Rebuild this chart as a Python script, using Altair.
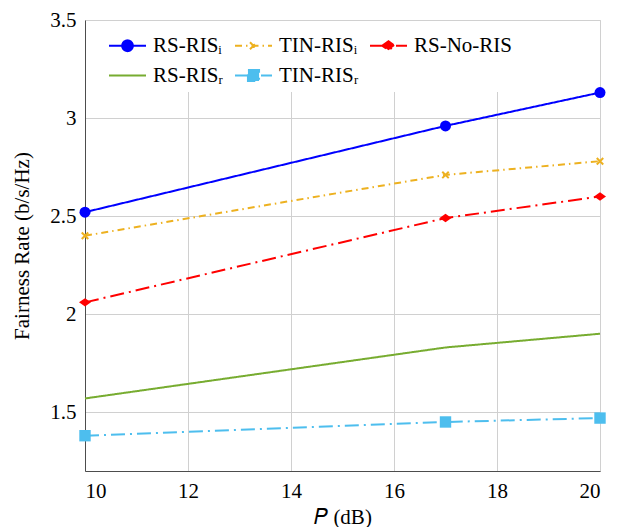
import math

import altair as alt
import pandas as pd

# Transmit power (dB) at which each scheme was evaluated
power_db = [10, 17, 20]

# Series labels, in legend order
series_names = ["RS-RISᵢ", "TIN-RISᵢ", "RS-No-RIS", "RS-RISᵣ", "TIN-RISᵣ"]

# Fairness rate (b/s/Hz) per scheme
rs_ris_i = [2.52, 2.96, 3.13]
tin_ris_i = [2.40, 2.71, 2.78]
rs_no_ris = [2.06, 2.49, 2.60]
rs_ris_r = [1.57, 1.83, 1.90]
tin_ris_r = [1.38, 1.45, 1.47]

x_ticks = [10, 12, 14, 16, 18, 20]
y_ticks = [1.5, 2, 2.5, 3, 3.5]

series_values = [rs_ris_i, tin_ris_i, rs_no_ris, rs_ris_r, tin_ris_r]

colors = ["#0000ff", "#edb120", "#ff0000", "#77ac30", "#4dbeee"]
dashes = [[1, 0], [7, 4, 1.5, 4], [14, 5, 2, 5], [1, 0], [14, 5, 2, 5]]


def polygon(r, n=20):
    pts = [(r * math.cos(2 * math.pi * k / n), r * math.sin(2 * math.pi * k / n))
           for k in range(n)]
    return "M" + "L".join(f"{x:.3f},{y:.3f}" for x, y in pts) + "Z"


# Legend glyphs: a line sample with the series marker in the middle
legend_paths = [
    "M-1,0H1" + polygon(0.29),
    "M-1,0H1M-0.19,-0.19L0.19,0.19M-0.19,0.19L0.19,-0.19",
    "M-1,0H1M-0.34,0L0,-0.24L0.34,0L0,0.24Z",
    "M-1,0H1",
    "M-1,0H1M-0.3,-0.3H0.3V0.3H-0.3Z",
]

rows = []
for name, vals in zip(series_names, series_values):
    for p, v in zip(power_db, vals):
        rows.append({"P": p, "rate": v, "series": name})
df = pd.DataFrame(rows)

FONT = "Liberation Serif"
FS = 21

x_enc = alt.X(
    "P:Q",
    scale=alt.Scale(domain=[10, 20], nice=False, zero=False),
    axis=alt.Axis(values=x_ticks, format="d", title="𝑃 (dB)",
                  labelPadding=9, titlePadding=5),
)
y_enc = alt.Y(
    "rate:Q",
    scale=alt.Scale(domain=[1.2, 3.5], nice=False, zero=False),
    axis=alt.Axis(values=y_ticks, format="~g", title="Fairness Rate (b/s/Hz)",
                  labelPadding=9, titlePadding=17),
)

legend_cfg = alt.Legend(
    title=None, orient="none", legendX=18, legendY=1, columns=3,
    direction="horizontal",
    symbolType="stroke", symbolSize=1369, symbolStrokeWidth=2, symbolOpacity=1,
    labelFont=FONT, labelFontSize=FS, labelColor="black", labelOffset=6,
    columnPadding=7, rowPadding=-12, padding=5,
    fillColor="white", strokeColor="white",
)

color_scale = alt.Scale(domain=series_names, range=colors)
base = alt.Chart(df)

lines = base.mark_line(strokeWidth=2).encode(
    x=x_enc,
    y=y_enc,
    color=alt.Color("series:N", scale=color_scale, legend=legend_cfg),
    strokeDash=alt.StrokeDash("series:N",
                              scale=alt.Scale(domain=series_names, range=dashes),
                              legend=legend_cfg),
)


def markers(name, **mark_kw):
    return base.transform_filter(alt.datum.series == name).mark_point(
        opacity=1, **mark_kw
    ).encode(
        x=x_enc,
        y=y_enc,
        color=alt.Color("series:N", scale=color_scale, legend=None),
    )


circle_pts = markers(series_names[0], shape="circle", filled=True, size=121)
cross_pts = markers(series_names[1], shape="M-1,-1L1,1M-1,1L1,-1",
                    filled=False, strokeWidth=2, size=42)
diamond_pts = markers(series_names[2], shape="M-1,0L0,-0.7L1,0L0,0.7Z",
                      filled=True, size=144)
square_pts = markers(series_names[4], shape="square", filled=True, size=130)

# Transparent layer whose only job is to put the marker glyphs into the legend
legend_carrier = base.mark_point(filled=True, opacity=0).encode(
    x=x_enc,
    y=y_enc,
    color=alt.Color("series:N", scale=color_scale, legend=legend_cfg),
    shape=alt.Shape("series:N",
                    scale=alt.Scale(domain=series_names, range=legend_paths),
                    legend=legend_cfg),
)

chart = alt.layer(
    lines, circle_pts, cross_pts, diamond_pts, square_pts, legend_carrier
).properties(
    width=515,
    height=451,
    autosize=alt.AutoSizeParams(type="none"),
    padding={"left": 85, "top": 20, "right": 20, "bottom": 56},
).configure_view(
    stroke="#d0d0d0", strokeWidth=1
).configure_axis(
    labelFont=FONT, labelFontSize=FS, labelColor="black",
    titleFont=FONT, titleFontSize=FS, titleFontWeight="normal", titleColor="black",
    gridColor="#d0d0d0", gridWidth=1,
    domainColor="#4d4d4d", domainWidth=1,
    ticks=False, tickSize=0,
)

chart.save("out.html", embed_options={"renderer": "svg", "actions": False})
